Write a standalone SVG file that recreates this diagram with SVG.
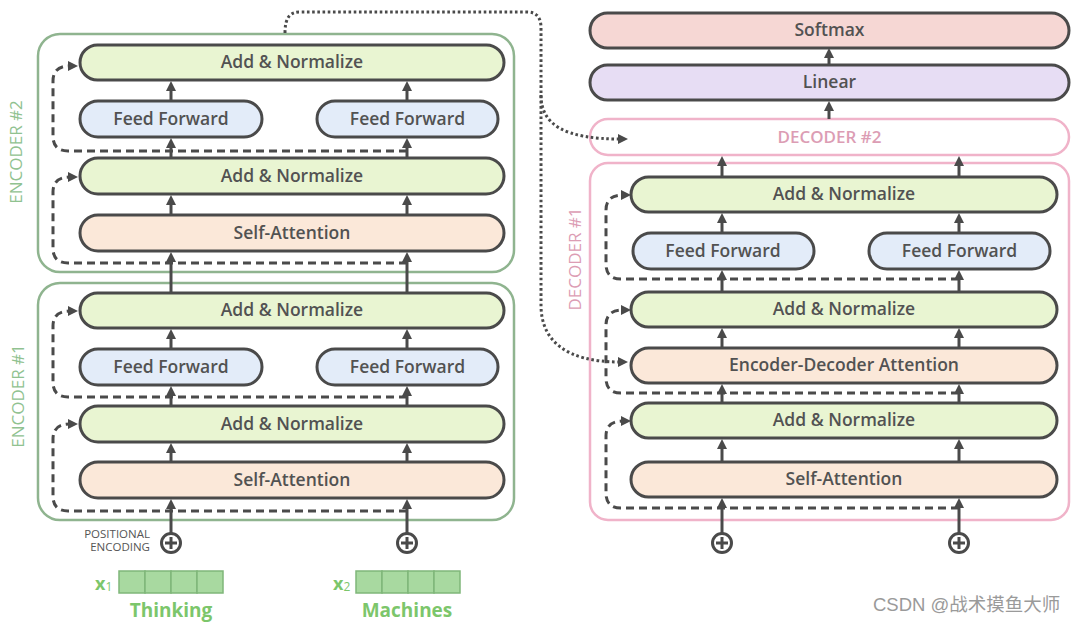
<svg xmlns="http://www.w3.org/2000/svg" width="1080" height="623" viewBox="0 0 1080 623">
<defs>
<style>
.box{stroke:#4a4a4a;stroke-width:3}
.an{fill:#e9f5d2}
.ff{fill:#e3ecf9}
.sa{fill:#fbe8d9}
.sm{fill:#f6d7d4}
.lin{fill:#e7ddf4}
.t{font-family:"Open Sans","Liberation Sans",sans-serif;font-size:17.5px;font-weight:600;fill:#525252;text-anchor:middle}
.enc{fill:none;stroke:#8fb48f;stroke-width:2.5}
.dec{fill:none;stroke:#f0b3c9;stroke-width:2.5}
.lblE{font-family:"Open Sans","Liberation Sans",sans-serif;font-size:17px;fill:#90c290;text-anchor:middle}
.lblD{font-family:"Open Sans","Liberation Sans",sans-serif;font-size:17px;fill:#dc9db4;text-anchor:middle}
.sol{stroke:#4a4a4a;stroke-width:3;fill:none}
.dash{stroke:#4a4a4a;stroke-width:3;fill:none;stroke-dasharray:8 5}
.dot{stroke:#4a4a4a;stroke-width:3;fill:none;stroke-dasharray:2.6 2.6}
.plus{fill:#fff;stroke:#4a4a4a;stroke-width:3}
.vec{fill:#a8d9a0;stroke:#7fb679;stroke-width:1.5}
.word{font-family:"Open Sans","Liberation Sans",sans-serif;font-size:19px;font-weight:700;fill:#7cc66b;text-anchor:middle}
.pe{font-family:"Open Sans","Liberation Sans",sans-serif;font-size:11.5px;fill:#555;text-anchor:end}
</style>
<marker id="ah" viewBox="0 0 10 10" refX="2" refY="5" markerWidth="10" markerHeight="10" markerUnits="userSpaceOnUse" orient="auto"><path d="M0,0 L10,5 L0,10 z" fill="#4a4a4a"/></marker>
</defs>
<rect width="1080" height="623" fill="#fff"/>

<!-- containers -->
<g id="encoder2">
<rect class="enc" x="38" y="34" width="476" height="238" rx="22"/>
<text class="lblE" transform="translate(22,152) rotate(-90)">ENCODER #2</text>
</g>
<g id="encoder1">
<rect class="enc" x="38" y="283" width="476" height="237" rx="22"/>
<text class="lblE" transform="translate(24,396) rotate(-90)">ENCODER #1</text>
</g>
<g id="decoder1">
<rect class="dec" x="590" y="163" width="479" height="357" rx="18"/>
<text class="lblD" transform="translate(581,259) rotate(-90)">DECODER #1</text>
</g>

<!-- encoder 2 nodes -->
<g id="e2-an2"><rect class="box an" x="80" y="45" width="424" height="35" rx="17.5"/><text class="t" x="292" y="68">Add &amp; Normalize</text></g>
<g id="e2-ff1"><rect class="box ff" x="80" y="101" width="182" height="36" rx="18"/><text class="t" x="171" y="125">Feed Forward</text></g>
<g id="e2-ff2"><rect class="box ff" x="317" y="101" width="181" height="36" rx="18"/><text class="t" x="407.5" y="125">Feed Forward</text></g>
<g id="e2-an1"><rect class="box an" x="80" y="158" width="424" height="36" rx="18"/><text class="t" x="292" y="182">Add &amp; Normalize</text></g>
<g id="e2-sa"><rect class="box sa" x="80" y="215" width="424" height="36" rx="18"/><text class="t" x="292" y="239">Self-Attention</text></g>

<!-- encoder 1 nodes -->
<g id="e1-an2"><rect class="box an" x="80" y="293" width="424" height="35" rx="17.5"/><text class="t" x="292" y="316">Add &amp; Normalize</text></g>
<g id="e1-ff1"><rect class="box ff" x="80" y="349" width="182" height="36" rx="18"/><text class="t" x="171" y="373">Feed Forward</text></g>
<g id="e1-ff2"><rect class="box ff" x="317" y="349" width="181" height="36" rx="18"/><text class="t" x="407.5" y="373">Feed Forward</text></g>
<g id="e1-an1"><rect class="box an" x="80" y="406" width="424" height="36" rx="18"/><text class="t" x="292" y="430">Add &amp; Normalize</text></g>
<g id="e1-sa"><rect class="box sa" x="80" y="462" width="424" height="36" rx="18"/><text class="t" x="292" y="486">Self-Attention</text></g>

<!-- decoder nodes -->
<g id="softmax"><rect class="box sm" x="590" y="13" width="479" height="35" rx="17.5"/><text class="t" x="829.5" y="36">Softmax</text></g>
<g id="linear"><rect class="box lin" x="590" y="65" width="479" height="35" rx="17.5"/><text class="t" x="829.5" y="88">Linear</text></g>
<g id="decoder2"><rect class="dec" x="590" y="119" width="479" height="36" rx="18" fill="#fff"/><text class="lblD" x="829.5" y="143" font-weight="600">DECODER #2</text></g>
<g id="d-an3"><rect class="box an" x="631" y="177" width="426" height="35" rx="17.5"/><text class="t" x="844" y="200">Add &amp; Normalize</text></g>
<g id="d-ff1"><rect class="box ff" x="633" y="233" width="181" height="36" rx="18"/><text class="t" x="723" y="257">Feed Forward</text></g>
<g id="d-ff2"><rect class="box ff" x="869" y="233" width="181" height="36" rx="18"/><text class="t" x="959.5" y="257">Feed Forward</text></g>
<g id="d-an2"><rect class="box an" x="631" y="292" width="426" height="35" rx="17.5"/><text class="t" x="844" y="315">Add &amp; Normalize</text></g>
<g id="d-eda"><rect class="box sa" x="631" y="348" width="426" height="35" rx="17.5"/><text class="t" x="844" y="371">Encoder-Decoder Attention</text></g>
<g id="d-an1"><rect class="box an" x="631" y="403" width="426" height="35" rx="17.5"/><text class="t" x="844" y="426">Add &amp; Normalize</text></g>
<g id="d-sa"><rect class="box sa" x="631" y="462" width="426" height="35" rx="17.5"/><text class="t" x="844" y="485">Self-Attention</text></g>

<!-- inputs -->
<g id="pos-enc">
<text class="pe" x="150" y="538">POSITIONAL</text>
<text class="pe" x="150" y="551">ENCODING</text>
</g>
<g id="plus-e1"><circle class="plus" cx="171" cy="543" r="9.5"/><path class="sol" d="M165,543 H177 M171,537 V549"/></g>
<g id="plus-e2"><circle class="plus" cx="407" cy="543" r="9.5"/><path class="sol" d="M401,543 H413 M407,537 V549"/></g>
<g id="plus-d1"><circle class="plus" cx="722" cy="543" r="9.5"/><path class="sol" d="M716,543 H728 M722,537 V549"/></g>
<g id="plus-d2"><circle class="plus" cx="959" cy="543" r="9.5"/><path class="sol" d="M953,543 H965 M959,537 V549"/></g>

<g id="x1">
<text x="95" y="590" style="font-family:'Open Sans','Liberation Sans',sans-serif;font-size:18px;font-weight:700;fill:#7cc66b">x<tspan font-size="12" font-weight="400" dy="1">1</tspan></text>
<rect class="vec" x="119" y="571" width="26" height="22"/><rect class="vec" x="145" y="571" width="26" height="22"/><rect class="vec" x="171" y="571" width="26" height="22"/><rect class="vec" x="197" y="571" width="26" height="22"/>
<text class="word" x="171" y="617">Thinking</text>
</g>
<g id="x2">
<text x="333" y="590" style="font-family:'Open Sans','Liberation Sans',sans-serif;font-size:18px;font-weight:700;fill:#7cc66b">x<tspan font-size="12" font-weight="400" dy="1">2</tspan></text>
<rect class="vec" x="356" y="571" width="26" height="22"/><rect class="vec" x="382" y="571" width="26" height="22"/><rect class="vec" x="408" y="571" width="26" height="22"/><rect class="vec" x="434" y="571" width="26" height="22"/>
<text class="word" x="407" y="617">Machines</text>
</g>

<!-- connectors -->
<g id="connectors">
<line class="sol" marker-end="url(#ah)" x1="171" y1="533" x2="171" y2="507"/>
<line class="sol" marker-end="url(#ah)" x1="407" y1="533" x2="407" y2="507"/>
<line class="sol" marker-end="url(#ah)" x1="171" y1="462" x2="171" y2="451"/>
<line class="sol" marker-end="url(#ah)" x1="407" y1="462" x2="407" y2="451"/>
<line class="sol" marker-end="url(#ah)" x1="171" y1="406" x2="171" y2="394"/>
<line class="sol" marker-end="url(#ah)" x1="407" y1="406" x2="407" y2="394"/>
<line class="sol" marker-end="url(#ah)" x1="171" y1="349" x2="171" y2="337"/>
<line class="sol" marker-end="url(#ah)" x1="407" y1="349" x2="407" y2="337"/>
<line class="sol" marker-end="url(#ah)" x1="171" y1="293" x2="171" y2="260"/>
<line class="sol" marker-end="url(#ah)" x1="407" y1="293" x2="407" y2="260"/>
<line class="sol" marker-end="url(#ah)" x1="171" y1="215" x2="171" y2="203"/>
<line class="sol" marker-end="url(#ah)" x1="407" y1="215" x2="407" y2="203"/>
<line class="sol" marker-end="url(#ah)" x1="171" y1="158" x2="171" y2="146"/>
<line class="sol" marker-end="url(#ah)" x1="407" y1="158" x2="407" y2="146"/>
<line class="sol" marker-end="url(#ah)" x1="171" y1="101" x2="171" y2="89"/>
<line class="sol" marker-end="url(#ah)" x1="407" y1="101" x2="407" y2="89"/>
<line class="sol" marker-end="url(#ah)" x1="722" y1="533" x2="722" y2="506"/>
<line class="sol" marker-end="url(#ah)" x1="959" y1="533" x2="959" y2="506"/>
<line class="sol" marker-end="url(#ah)" x1="722" y1="462" x2="722" y2="447"/>
<line class="sol" marker-end="url(#ah)" x1="959" y1="462" x2="959" y2="447"/>
<line class="sol" marker-end="url(#ah)" x1="722" y1="403" x2="722" y2="392"/>
<line class="sol" marker-end="url(#ah)" x1="959" y1="403" x2="959" y2="392"/>
<line class="sol" marker-end="url(#ah)" x1="722" y1="348" x2="722" y2="336"/>
<line class="sol" marker-end="url(#ah)" x1="959" y1="348" x2="959" y2="336"/>
<line class="sol" marker-end="url(#ah)" x1="722" y1="292" x2="722" y2="278"/>
<line class="sol" marker-end="url(#ah)" x1="959" y1="292" x2="959" y2="278"/>
<line class="sol" marker-end="url(#ah)" x1="722" y1="233" x2="722" y2="221"/>
<line class="sol" marker-end="url(#ah)" x1="959" y1="233" x2="959" y2="221"/>
<line class="sol" marker-end="url(#ah)" x1="722" y1="177" x2="722" y2="164"/>
<line class="sol" marker-end="url(#ah)" x1="959" y1="177" x2="959" y2="164"/>
<line class="sol" marker-end="url(#ah)" x1="829" y1="119" x2="829" y2="109"/>
<line class="sol" marker-end="url(#ah)" x1="829" y1="65" x2="829" y2="56"/>
<path class="dash" marker-end="url(#ah)" d="M407,263 H68 Q53,263 53,248 V192 Q53,177 70,177"/>
<path class="dash" marker-end="url(#ah)" d="M407,151 H68 Q53,151 53,136 V81 Q53,66 70,66"/>
<path class="dash" marker-end="url(#ah)" d="M407,511 H68 Q53,511 53,496 V439 Q53,424 70,424"/>
<path class="dash" marker-end="url(#ah)" d="M407,397 H68 Q53,397 53,382 V326 Q53,311 70,311"/>
<path class="dash" marker-end="url(#ah)" d="M959,508 H621 Q606,508 606,493 V436 Q606,421 623,421"/>
<path class="dash" marker-end="url(#ah)" d="M959,393 H621 Q606,393 606,378 V325 Q606,310 623,310"/>
<path class="dash" marker-end="url(#ah)" d="M959,279 H621 Q606,279 606,264 V210 Q606,195 623,195"/>
<path class="dot" marker-end="url(#ah)" d="M285,33 C285,19 289,12 300,12 H527 C537,12 541,18 541,28 V305 C541,340 565,362 620,362"/>
<path class="dot" marker-end="url(#ah)" d="M541,95 C541,125 565,139 620,139"/>
</g>

<text x="873" y="611" style="font-family:'Liberation Sans','Noto Sans CJK SC',sans-serif;font-size:18.5px;fill:#9a9a9a">CSDN @战术摸鱼大师</text>
</svg>
